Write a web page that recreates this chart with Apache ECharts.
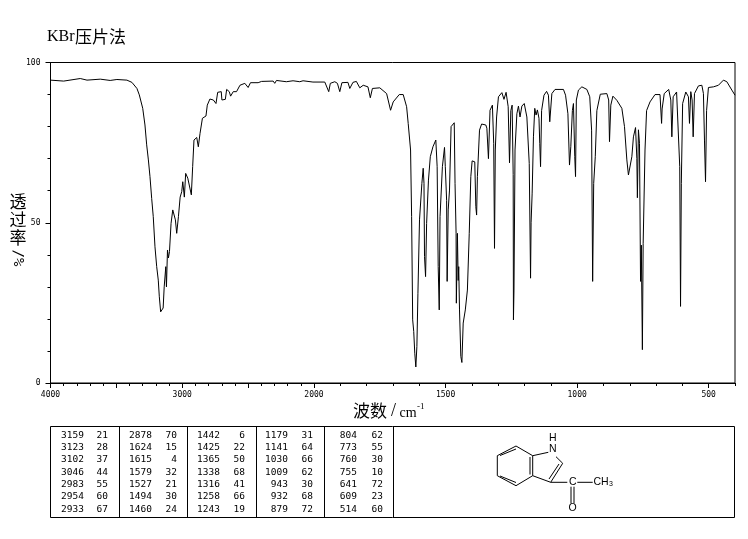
<!DOCTYPE html>
<html><head><meta charset="utf-8">
<style>html,body{margin:0;padding:0;background:#fff}#c{width:748px;height:539px}</style>
<script src="https://cdn.jsdelivr.net/npm/echarts@6/dist/echarts.min.js"></script>
</head><body><div id="c"></div>
<script>
const wavenumberHigh=[4000,3900,3774,3723,3622,3547,3496,3420,3382,3344,3326,3300,3283,3270,3257,3245,3232,3220,3207,3194,3182,3174,3164,3154,3145,3137,3125,3120,3112,3105,3097,3085,3072,3062,3052,3042,3029,3016,3004,2996,2984,2974,2958,2952,2945,2931,2921,2911,2890,2878,2865,2847,2820,2810,2790,2764,2744,2731,2704,2699,2673,2663,2643,2633,2613,2588,2562,2525,2500,2482,2424,2398,2310,2298,2285,2210,2159,2108,2083,2008,2000];
const transmittanceHigh=[94.5,94.2,95,94.5,94.8,94.4,94.7,94.5,93.8,91.9,89.9,85.7,80.5,74.3,69.6,64.4,57.6,51.9,42.5,36.3,32.1,26.9,22.2,21.8,23.4,30,36.3,30,41.5,39,41,49.8,54,54.5,50.9,46.7,51.9,58,59.7,62.8,58,65.4,63.9,64.5,63.9,58.7,67.5,75.8,76.6,73.7,77.9,82.6,83.3,86.7,88.6,88.3,87.2,90.7,90.9,88.3,88.5,91.6,90.9,89.5,90.9,90.9,92.9,93.5,92.2,93.7,93.7,94.1,94.2,93.5,94.4,94,94.3,94,94.3,93.9,93.9];
const wavenumberLow=[2000,1959,1953,1944,1938,1921,1911,1902,1894,1871,1864,1852,1839,1826,1813,1795,1786,1778,1750,1724,1709,1699,1676,1661,1648,1642,1633,1629,1625,1621,1617,1613,1609,1605,1599,1590,1585,1582,1580,1576,1572,1565,1558,1548,1537,1532,1528,1524,1521,1512,1504,1501,1496,1494,1490,1485,1479,1467,1464,1460,1459,1455,1452,1450,1447,1442,1438,1433,1425,1417,1410,1404,1399,1389,1385,1382,1379,1371,1363,1347,1343,1337,1331,1322,1317,1314,1311,1306,1299,1286,1278,1270,1262,1257,1252,1247,1243,1242,1240,1236,1229,1223,1217,1210,1201,1191,1182,1177,1175,1171,1166,1161,1156,1151,1145,1142,1139,1135,1126,1116,1109,1104,1100,1096,1084,1052,1044,1035,1029,1024,1018,1014,1009,1006,1003,995,982,963,952,945,941,937,931,925,912,887,880,877,872,864,849,830,820,811,805,798,792,786,778,773,771,767,763,759,756,752,749,742,736,723,704,685,679,677,669,652,644,640,635,622,616,610,607,604,599,587,577,573,568,563,559,554,539,526,520,516,512,508,501,482,463,444,431,412,400];
const transmittanceLow=[93.9,93.9,93.8,90.9,93.5,94,93.5,90.9,93.7,93.8,91.9,93.8,94.1,92.1,92.9,92.4,89,91.9,92.1,90.3,85.1,87.7,90,90,86.2,81,72.7,51.9,19.7,16.1,9.3,5,11.4,28,50.9,62.3,67,62.3,39.5,33.2,49.8,63.3,70.6,73.7,75.8,67.5,36.3,22.8,51.9,67.5,73.5,67.5,57,31.7,54,60.2,80,81.2,62.3,46.7,24.9,46.7,32,36.3,22.8,8.3,6.4,18.7,22.8,29,46.7,64.4,69.3,69,55,52.4,64.4,78.9,80.8,80.5,79.5,70,85.1,86.7,74.8,42,72.7,83,89.3,90.6,88.5,90.7,86.2,68.7,85,86.7,65,19.7,29,72.7,84,86.4,83,86.4,87.2,83,68.5,32.7,50,59,76.8,85.7,83.6,85.2,82.6,74.8,67.5,85,89.8,91,89.8,81.5,81,90.3,91.6,91.6,89.8,84,68,73.7,85,87.2,70.6,64.4,88.3,91.4,92.4,91.6,89.3,78.9,31.7,62.3,70.6,85,90.1,90.3,88.3,75.3,86.7,89.5,88.2,85.7,80,69.6,64.9,64.5,70.6,76.8,79.7,70,57.8,79,74.8,31.7,43,10.4,43.6,72.7,85,87.7,90,90,81,85.5,90.3,91.6,88.3,76.8,89.3,90.8,90.4,67.5,23.9,62.3,87.2,90.8,89.3,81,90.9,88.3,76.8,90.3,92.7,92.9,90.3,75.8,62.8,85,92.2,92.4,92.9,94.5,94,91.4,89.8];
const yTicks=[0,50,100];
const highLabels=[4000,3000];
const lowLabels=[2000,1500,1000,500];
const lowMajor=[500,1000,1500,2000];
const titleLatin='KBr';
const titleCjk='压片法';
const xTitleParts=['波数','/','cm','-1'];
const yTitleChars=['透','过','率'];
const yUnit='/%';
const tableCols=[
 [3159,3123,3102,3046,2983,2954,2933],[21,28,37,44,55,60,67],
 [2878,1624,1615,1579,1527,1494,1460],[70,15,4,32,21,30,24],
 [1442,1425,1365,1338,1316,1258,1243],[6,22,50,68,41,66,19],
 [1179,1141,1030,1009,943,932,879],[31,64,66,62,30,68,72],
 [804,773,760,755,641,609,514],[62,55,30,10,72,23,60]];

const L=50.5,M=314,R=735,T=62.5,B=383;
const black='#000';
const monoFont='"DejaVu Sans Mono"';
const cjk='"Noto Sans CJK SC"';
const serif='"Liberation Serif"';
const axLabel={color:black,fontFamily:monoFont,fontSize:8};
const lineAx={show:true,lineStyle:{color:black,width:1}};
const g=[];
function text(x,y,t,o){g.push({type:'text',x:x,y:y,silent:true,style:Object.assign({text:t,fill:black,font:'9.5px '+monoFont,textAlign:'right',textVerticalAlign:'middle'},o||{})});}
function seg(x1,y1,x2,y2,w){g.push({type:'line',silent:true,shape:{x1,y1,x2,y2},style:{stroke:black,lineWidth:w||1}});}
// title and axis names
text(47,37,titleLatin,{font:'16px '+serif,textAlign:'left'});
text(75,37,titleCjk,{font:'17px '+cjk,textAlign:'left'});
text(353,411,xTitleParts[0],{font:'17px '+cjk,textAlign:'left'});
text(393.5,411,xTitleParts[1],{font:'18px '+serif,textAlign:'center'});
text(399.5,413,xTitleParts[2],{font:'14px '+serif,textAlign:'left'});
text(417,407,xTitleParts[3],{font:'9px '+serif,textAlign:'left'});
yTitleChars.forEach((c,i)=>text(18,202+i*18,c,{font:'17px '+cjk,textAlign:'center'}));
g.push({type:'text',x:18,y:258,rotation:-Math.PI/2,silent:true,style:{text:yUnit,fill:black,font:'14px '+monoFont,textAlign:'center',textVerticalAlign:'middle'}});
// table
g.push({type:'rect',silent:true,shape:{x:50.5,y:426.5,width:684,height:91},style:{fill:'none',stroke:black,lineWidth:1}});
[119.5,187.5,256.5,324.5,393.5].forEach(x=>seg(x,426.5,x,517.5));
const colX=[84,108,152,177,220,245,288,313,357,383];
tableCols.forEach((col,i)=>col.forEach((v,j)=>text(colX[i],435.3+j*12.3,String(v))));
// molecule
[[497.3,455.7,516,446],[516,446,532.7,455.7],[532.7,455.7,532.7,475.7],[532.7,475.7,516,485.7],[516,485.7,497.3,475.7],[497.3,475.7,497.3,455.7],
 [500,455.5,516,449],[500,476,516,482.5],[530,457,530,474.5],
 [532.7,455.7,548.3,452.3],[556,456.7,562.7,463.3],[562.7,463.3,550.7,482.3],[559,464,549,479],[550.7,482.3,532.7,475.7],
 [550.7,482.3,567.3,482.3],[577.3,482.3,592.7,482.3],[571,486.7,571,503.3],[574,486.7,574,503.3]].forEach(s=>seg(s[0],s[1],s[2],s[3]));
const molFont='10.5px "Liberation Sans"';
text(552.7,438.3,'H',{font:molFont,textAlign:'center'});
text(552.7,449.3,'N',{font:molFont,textAlign:'center'});
text(572.7,482.3,'C',{font:molFont,textAlign:'center'});
text(572.7,508.3,'O',{font:molFont,textAlign:'center'});
text(593.5,482,'CH',{font:molFont,textAlign:'left'});
text(609,484.5,'3',{font:'7px "Liberation Sans"',textAlign:'left'});

const pairs=(a,b)=>a.map((x,i)=>[x,b[i]]);
const hideAll={axisLine:{show:false},axisTick:{show:false},axisLabel:{show:false},splitLine:{show:false}};
const chart=echarts.init(document.getElementById('c'),null,{renderer:'canvas'});
chart.setOption({
 animation:false,backgroundColor:'#fff',
 grid:[
  {left:L,width:M-L,top:T,height:B-T,show:false},
  {left:M,width:R-M,top:T,height:B-T,show:false},
  {left:L,width:R-L,top:T,height:B-T,show:true,backgroundColor:'transparent',borderColor:black,borderWidth:1}
 ],
 xAxis:[
  {gridIndex:0,type:'value',min:2000,max:4000,inverse:true,interval:500,position:'bottom',axisLine:lineAx,splitLine:{show:false},
   axisTick:{length:5,lineStyle:{color:black}},minorTick:{show:true,splitNumber:5,length:3,lineStyle:{color:black}},
   axisLabel:Object.assign({margin:8,showMinLabel:false,showMaxLabel:true,formatter:v=>highLabels.includes(v)?String(v):''},axLabel)},
  {gridIndex:1,type:'value',min:400,max:2000,inverse:true,interval:100,position:'bottom',axisLine:lineAx,splitLine:{show:false},
   axisTick:{length:3,lineStyle:{color:black}},axisLabel:{show:false}},
  {gridIndex:1,type:'value',min:400,max:2000,inverse:true,position:'bottom',axisLine:{show:false},splitLine:{show:false},
   axisTick:{show:true,length:5,customValues:lowMajor,lineStyle:{color:black}},
   axisLabel:Object.assign({margin:8,customValues:lowLabels,showMinLabel:true,showMaxLabel:true,formatter:v=>String(v)},axLabel)},
 ],
 yAxis:[
  {gridIndex:0,type:'value',min:0,max:100,interval:50,axisLine:lineAx,splitLine:{show:false},
   axisTick:{length:5,lineStyle:{color:black}},minorTick:{show:true,splitNumber:5,length:3,lineStyle:{color:black}},
   axisLabel:Object.assign({margin:10,showMinLabel:true,showMaxLabel:true,formatter:v=>yTicks.includes(v)?String(v):''},axLabel)},
  Object.assign({gridIndex:1,type:'value',min:0,max:100},hideAll)
 ],
 series:[
  {type:'line',xAxisIndex:0,yAxisIndex:0,data:pairs(wavenumberHigh,transmittanceHigh),showSymbol:false,symbol:'none',smooth:false,clip:true,lineStyle:{color:black,width:1},silent:true},
  {type:'line',xAxisIndex:1,yAxisIndex:1,data:pairs(wavenumberLow,transmittanceLow),showSymbol:false,symbol:'none',smooth:false,clip:true,lineStyle:{color:black,width:1},silent:true}
 ],
 graphic:g
});
</script></body></html>
